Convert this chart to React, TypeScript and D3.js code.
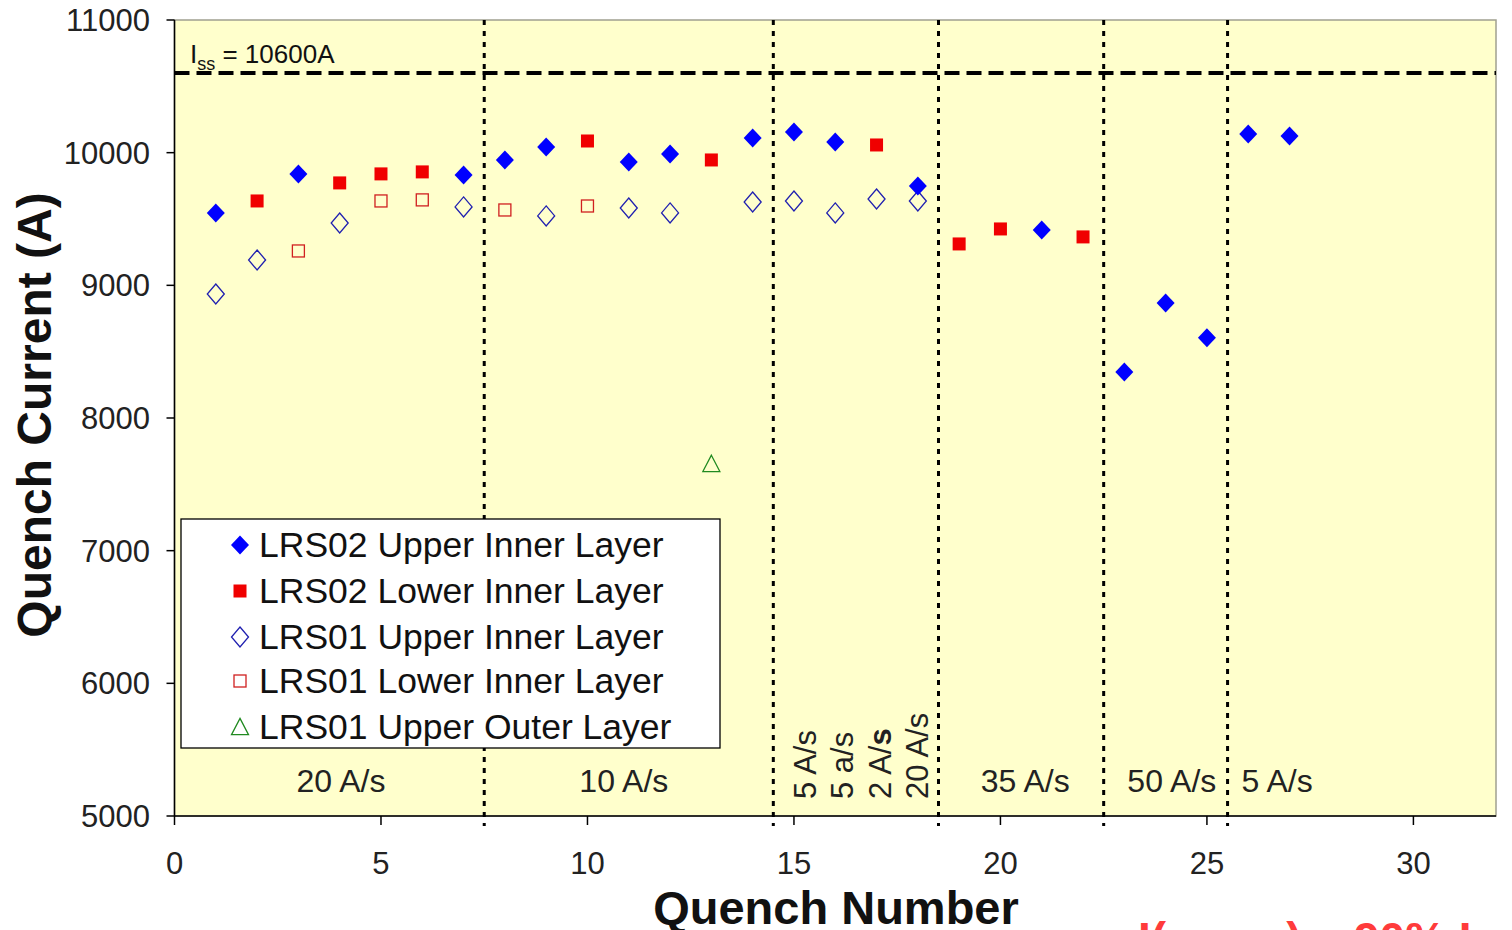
import React from "react";
import * as d3 from "d3";

const xTicks = [0, 5, 10, 15, 20, 25, 30];
const yTicks = [5000, 6000, 7000, 8000, 9000, 10000, 11000];

const lrs02UpperX = [1, 3, 7, 8, 9, 11, 12, 14, 15, 16, 18, 21, 23, 24, 25, 26, 27];
const lrs02UpperY = [9545, 9840, 9832, 9945, 10043, 9930, 9990, 10110, 10156, 10080, 9749, 9417, 8347, 8867, 8604, 10141, 10126];

const lrs02LowerX = [2, 4, 5, 6, 10, 13, 17, 19, 20, 22];
const lrs02LowerY = [9636, 9772, 9840, 9855, 10088, 9945, 10058, 9312, 9425, 9365];

const lrs01UpperX = [1, 2, 4, 7, 9, 11, 12, 14, 15, 16, 17, 18];
const lrs01UpperY = [8935, 9191, 9470, 9591, 9523, 9583, 9546, 9628, 9636, 9546, 9651, 9636];

const lrs01LowerX = [3, 5, 6, 8, 10];
const lrs01LowerY = [9259, 9636, 9644, 9568, 9598];

const lrs01OuterX = [13];
const lrs01OuterY = [7654];

const dividers = [7.5, 14.5, 18.5, 22.5, 25.5];
const issValue = 10600;

const rampLabels = ["20 A/s", "10 A/s", "35 A/s", "50 A/s", "5 A/s"];
const rampLabelX = [4.03, 10.88, 20.6, 24.15, 26.7];
const verticalRampX = [15.27, 16.16, 17.08, 17.98];

const legendLabels = [
  "LRS02 Upper Inner Layer",
  "LRS02 Lower Inner Layer",
  "LRS01 Upper Inner Layer",
  "LRS01 Lower Inner Layer",
  "LRS01 Upper Outer Layer",
];

const FONT = "'Liberation Sans', Arial, Helvetica, sans-serif";

function diamond(cx: number, cy: number, hw: number, hh: number) {
  return `M${cx},${cy - hh}L${cx + hw},${cy}L${cx},${cy + hh}L${cx - hw},${cy}Z`;
}
function triangle(cx: number, cy: number, s: number) {
  const h = s * 0.9;
  return `M${cx},${cy - h / 2 - 1}L${cx + s / 2},${cy + h / 2}L${cx - s / 2},${cy + h / 2}Z`;
}

type Kind = "fd" | "fs" | "od" | "os" | "ot";

function Marker({ kind, cx, cy }: { kind: Kind; cx: number; cy: number }) {
  switch (kind) {
    case "fd":
      return <path d={diamond(cx, cy, 9, 9.5)} fill="#0000ff" />;
    case "fs":
      return <rect x={cx - 6.5} y={cy - 6.5} width={13} height={13} fill="#f00000" />;
    case "od":
      return <path d={diamond(cx, cy, 8.5, 10)} fill="none" stroke="#2020b0" strokeWidth={1.3} />;
    case "os":
      return <rect x={cx - 6} y={cy - 6} width={12} height={12} fill="none" stroke="#d02020" strokeWidth={1.3} />;
    case "ot":
      return <path d={triangle(cx, cy, 17)} fill="none" stroke="#208a20" strokeWidth={1.3} />;
  }
}

export default function App() {
  const left = 174.5, right = 1496, top = 20, bottom = 816;
  const x = d3.scaleLinear().domain([0, 32]).range([left, right]);
  const y = d3.scaleLinear().domain([5000, 11000]).range([bottom, top]);

  const series: { kind: Kind; xs: number[]; ys: number[] }[] = [
    { kind: "od", xs: lrs01UpperX, ys: lrs01UpperY },
    { kind: "os", xs: lrs01LowerX, ys: lrs01LowerY },
    { kind: "ot", xs: lrs01OuterX, ys: lrs01OuterY },
    { kind: "fd", xs: lrs02UpperX, ys: lrs02UpperY },
    { kind: "fs", xs: lrs02LowerX, ys: lrs02LowerY },
  ];
  const legendKinds: Kind[] = ["fd", "fs", "od", "os", "ot"];
  const legendY = [545, 591, 637, 681, 727];

  return (
    <svg
      width={1512}
      height={930}
      style={{ position: "absolute", left: 0, top: 0, background: "#fff" }}
      fontFamily={FONT}
    >
      <rect x={left} y={top} width={right - left} height={bottom - top} fill="#ffffcc" stroke="#a0a090" strokeWidth={1.5} />

      {/* dividers */}
      {dividers.map((d, i) => (
        <line key={i} x1={x(d)} x2={x(d)} y1={top} y2={bottom + 10} stroke="#000" strokeWidth={3} strokeDasharray="5 6" />
      ))}

      {/* Iss line */}
      <line x1={left} x2={right} y1={y(issValue)} y2={y(issValue)} stroke="#000" strokeWidth={4} strokeDasharray="15 7" />
      <text x={190} y={63} fontSize={26} fill="#111">
        I<tspan fontSize={18} dy={7}>ss</tspan><tspan dy={-7}> = 10600A</tspan>
      </text>

      {/* axes */}
      <line x1={left} x2={left} y1={top} y2={bottom} stroke="#000" strokeWidth={1.5} />
      <line x1={left} x2={right} y1={bottom} y2={bottom} stroke="#000" strokeWidth={1.5} />
      {yTicks.map((t) => (
        <g key={t}>
          <line x1={left - 8} x2={left} y1={y(t)} y2={y(t)} stroke="#000" strokeWidth={1.5} />
          <text x={150} y={y(t) + 11} textAnchor="end" fontSize={31} fill="#222">{t}</text>
        </g>
      ))}
      {xTicks.map((t) => (
        <g key={t}>
          <line x1={x(t)} x2={x(t)} y1={bottom} y2={bottom + 9} stroke="#000" strokeWidth={1.5} />
          <text x={x(t)} y={874} textAnchor="middle" fontSize={31} fill="#222">{t}</text>
        </g>
      ))}

      {/* axis titles */}
      <text x={836} y={924} textAnchor="middle" fontSize={47} fontWeight="bold" fill="#111">Quench Number</text>
      <text transform="translate(51,415) rotate(-90)" textAnchor="middle" fontSize={48} fontWeight="bold" fill="#111">Quench Current (A)</text>

      {/* ramp labels */}
      {rampLabels.map((l, i) => (
        <text key={l + i} x={x(rampLabelX[i])} y={792} textAnchor="middle" fontSize={32} fill="#222">{l}</text>
      ))}
      {verticalRampX.map((v, i) => (
        <text key={i} transform={`translate(${x(v) + 11},799) rotate(-90)`} fontSize={31} fill="#222">
          {i === 0 && "5 A/s"}
          {i === 1 && "5 a/s"}
          {i === 2 && (<>2 A/<tspan fontWeight="bold">s</tspan></>)}
          {i === 3 && "20 A/s"}
        </text>
      ))}

      {/* points */}
      {series.map((s) =>
        s.xs.map((xv, i) => <Marker key={s.kind + i} kind={s.kind} cx={x(xv)} cy={y(s.ys[i])} />)
      )}

      {/* legend */}
      <rect x={181} y={519} width={539} height={229} fill="#fff" stroke="#000" strokeWidth={1.3} />
      {legendLabels.map((l, i) => (
        <g key={l}>
          <Marker kind={legendKinds[i]} cx={240} cy={legendY[i]} />
          <text x={259} y={legendY[i] + 12} fontSize={35.5} fill="#111">{l}</text>
        </g>
      ))}

      {/* cut-off red text at bottom */}
      <text x={1138} y={955} fontSize={46} fontWeight="bold" fill="#ff3b3b">
        I(mean)  ~  90% I
      </text>
    </svg>
  );
}
